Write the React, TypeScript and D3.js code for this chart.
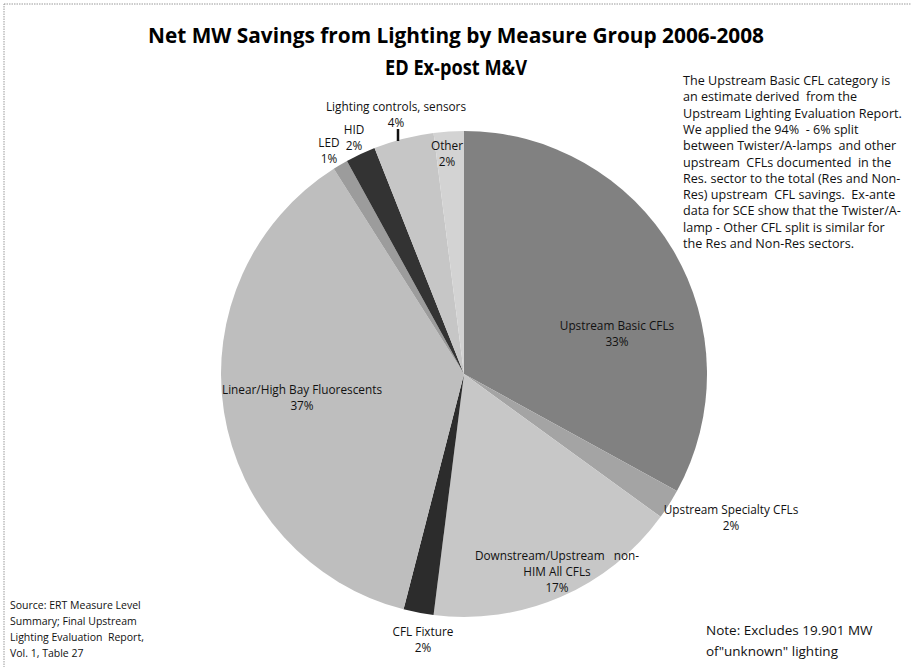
import React from "react";
import * as d3 from "d3";

const categories = [
  "Upstream Basic CFLs",
  "Upstream Specialty CFLs",
  "Downstream/Upstream non-HIM All CFLs",
  "CFL Fixture",
  "Linear/High Bay Fluorescents",
  "LED",
  "HID",
  "Lighting controls, sensors",
  "Other",
];
const shares = [33, 2, 17, 2, 37, 1, 2, 4, 2];
const fills = ["#818181", "#a4a4a4", "#c7c7c7", "#2c2c2c", "#bebebe", "#9c9c9c", "#333333", "#c6c6c6", "#d3d3d3"];

const labelLines: string[][] = [
  ["Upstream Basic CFLs"],
  ["Upstream Specialty CFLs"],
  ["Downstream/Upstream   non-", "HIM All CFLs"],
  ["CFL Fixture"],
  ["Linear/High Bay Fluorescents"],
  ["LED"],
  ["HID"],
  ["Lighting controls, sensors"],
  ["Other"],
];
const labelPos: [number, number][] = [
  [617, 326],
  [731, 510],
  [557, 556],
  [423, 632],
  [302, 390],
  [329, 143],
  [354, 130],
  [396, 107],
  [447, 146],
];

const noteLines = [
  "The Upstream Basic CFL category is",
  "an estimate derived  from the",
  "Upstream Lighting Evaluation Report.",
  "We applied the 94%  - 6% split",
  "between Twister/A-lamps  and other",
  "upstream  CFLs documented  in the",
  "Res. sector to the total (Res and Non-",
  "Res) upstream  CFL savings.  Ex-ante",
  "data for SCE show that the Twister/A-",
  "lamp - Other CFL split is similar for",
  "the Res and Non-Res sectors.",
];
const sourceLines = [
  "Source: ERT Measure Level",
  "Summary; Final Upstream",
  "Lighting Evaluation  Report,",
  "Vol. 1, Table 27",
];
const excludeLines = ["Note: Excludes 19.901 MW", "of\"unknown\" lighting"];

const W = 911;
const H = 667;
const cx = 464;
const cy = 374;
const R = 243;

export default function App() {
  const pie = d3.pie<number>().sort(null).value((d) => d)(shares);
  const arc = d3.arc<d3.PieArcDatum<number>>().innerRadius(0).outerRadius(R);
  const font = "'Open Sans', 'Liberation Sans', sans-serif";
  return (
    <svg
      width={W}
      height={H}
      style={{ position: "absolute", left: 0, top: 0, background: "#fff" }}
      fontFamily={font}
    >
      <rect x={4} y={4} width={W + 10} height={H + 10} fill="#fff" stroke="#999" strokeDasharray="1.5 1" />
      <text x={456} y={43} textAnchor="middle" fontSize={21} fontWeight="bold" textLength={616} lengthAdjust="spacingAndGlyphs">
        Net MW Savings from Lighting by Measure Group 2006-2008
      </text>
      <text x={456} y={75} textAnchor="middle" fontSize={21} fontWeight="bold" textLength={142} lengthAdjust="spacingAndGlyphs">
        ED Ex-post M&amp;V
      </text>
      <g transform={`translate(${cx},${cy})`}>
        {pie.map((p, i) => (
          <path key={categories[i]} d={arc(p) || ""} fill={fills[i]} />
        ))}
      </g>
      <line x1={398} y1={129} x2={398} y2={141} stroke="#111" strokeWidth={2.5} />
      {labelLines.map((lines, i) => {
        const [x, y] = labelPos[i];
        const all = [...lines, `${shares[i]}%`];
        return (
          <text key={i} fontSize={11.8} textAnchor="middle" fill="#111">
            {all.map((t, j) => (
              <tspan key={j} x={x} y={y + 4 + j * 16} xmlSpace="preserve">
                {t}
              </tspan>
            ))}
          </text>
        );
      })}
      <text fontSize={12.6} fill="#111">
        {noteLines.map((t, j) => (
          <tspan key={j} x={683} y={85 + j * 16.3} xmlSpace="preserve">
            {t}
          </tspan>
        ))}
      </text>
      <text fontSize={10.5} fill="#111">
        {sourceLines.map((t, j) => (
          <tspan key={j} x={10} y={609 + j * 16} xmlSpace="preserve">
            {t}
          </tspan>
        ))}
      </text>
      <text fontSize={13.5} fill="#111">
        {excludeLines.map((t, j) => (
          <tspan key={j} x={706} y={635 + j * 21}>
            {t}
          </tspan>
        ))}
      </text>
    </svg>
  );
}
